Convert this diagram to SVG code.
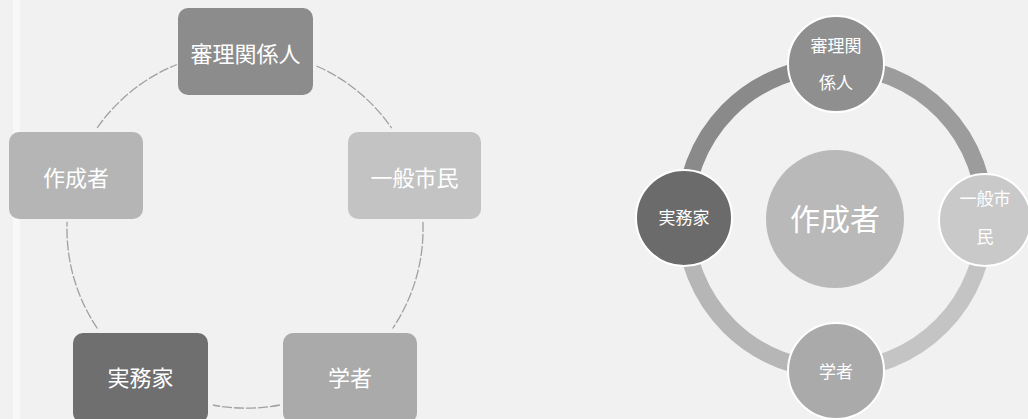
<svg xmlns="http://www.w3.org/2000/svg" width="1028" height="419" viewBox="0 0 1028 419">
<style>
text{font-family:"Noto Sans CJK JP","Noto Sans CJK SC",sans-serif;fill:#ffffff;text-anchor:middle;dominant-baseline:central}
.bx text{font-size:22px}
.arc{fill:none;stroke:#a0a0a0;stroke-width:1.3;stroke-dasharray:10 2}
.ring{fill:none;stroke-width:17}
.sat{stroke:#ffffff;stroke-width:2}
.sat-t{font-size:17px}
</style>
<rect x="0" y="0" width="1028" height="419" fill="#f1f1f1"/>
<rect x="13" y="0" width="7" height="419" fill="#f8f8f8"/>
<g id="connectors">
<path class="arc" d="M316.5,66 A178,178 0 0 1 391.7,128.2"/>
<path class="arc" d="M422.9,221.9 A178,178 0 0 1 392.6,328.5"/>
<path class="arc" d="M279.9,405 A178,178 0 0 1 212.9,405"/>
<path class="arc" d="M97.4,328.5 A178,178 0 0 1 67.1,221.9"/>
<path class="arc" d="M97.1,128 A178,178 0 0 1 176.9,64.5"/>
<path class="ring" stroke="#8a8a8a" d="M685,220 A150,150 0 0 1 836,66"/>
<path class="ring" stroke="#9c9c9c" d="M836,66 A150,150 0 0 1 985,220"/>
<path class="ring" stroke="#c4c4c4" d="M985,220 A150,150 0 0 1 836,370"/>
<path class="ring" stroke="#b6b6b6" d="M836,370 A150,150 0 0 1 685,220"/>
</g>
<g id="n-shinri" class="bx"><rect x="178" y="8" width="135" height="87" rx="10" fill="#8c8c8c"/><text x="245.5" y="51.5">審理関係人</text></g>
<g id="n-sakusei" class="bx"><rect x="9" y="132" width="134" height="87" rx="10" fill="#b5b5b5"/><text x="76" y="175.5">作成者</text></g>
<g id="n-ippan" class="bx"><rect x="348" y="132" width="133" height="87" rx="10" fill="#c3c3c3"/><text x="414.5" y="175.5">一般市民</text></g>
<g id="n-jitsumu" class="bx"><rect x="73" y="333" width="135" height="90" rx="10" fill="#6f6f6f"/><text x="140.5" y="376">実務家</text></g>
<g id="n-gakusha" class="bx"><rect x="283" y="333" width="134" height="90" rx="10" fill="#aaaaaa"/><text x="350" y="376">学者</text></g>
<g id="r-center"><circle cx="835" cy="219" r="69" fill="#b9b9b9"/><text x="835" y="217" style="font-size:30px">作成者</text></g>
<g id="r-shinri"><circle class="sat" cx="836" cy="64" r="48" fill="#8f8f8f"/><text class="sat-t" x="836" y="44">審理関</text><text class="sat-t" x="836" y="81">係人</text></g>
<g id="r-jitsumu"><circle class="sat" cx="684" cy="218" r="48" fill="#6b6b6b"/><text class="sat-t" x="684" y="216">実務家</text></g>
<g id="r-ippan"><circle class="sat" cx="985" cy="220" r="46" fill="#c9c9c9"/><text class="sat-t" x="985" y="197">一般市</text><text class="sat-t" x="985" y="235">民</text></g>
<g id="r-gakusha"><circle class="sat" cx="836" cy="371" r="48" fill="#aaaaaa"/><text class="sat-t" x="836" y="370">学者</text></g>
</svg>
